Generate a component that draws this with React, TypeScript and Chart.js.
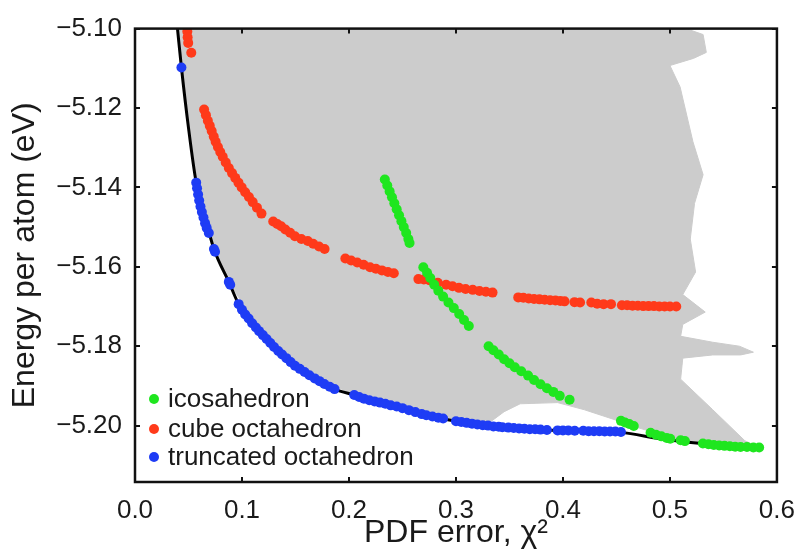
import React, { useEffect, useRef } from "react";
import { Chart, registerables } from "chart.js";

Chart.register(...registerables);

type Pt = [number, number];

const xTicks = [0, 0.1, 0.2, 0.3, 0.4, 0.5, 0.6];
const yTicks = [-5.2, -5.18, -5.16, -5.14, -5.12, -5.1];
const xRange = [0, 0.6];
const yRange = [-5.2142, -5.1];

const seriesLabels = ["icosahedron", "cube octahedron", "truncated octahedron"];
const seriesColors = ["#1fe61f", "#ff3a1a", "#1e3cf5"];
const regionColor = "#cccccc";

const icosahedron: Pt[] = [
  [0.2335, -5.138], [0.2358, -5.1395], [0.238, -5.141], [0.2402, -5.1425], [0.2424, -5.144],
  [0.2446, -5.1455], [0.2468, -5.147], [0.249, -5.1485], [0.2512, -5.15], [0.2535, -5.1515],
  [0.2555, -5.153], [0.2566, -5.154],
  [0.2695, -5.1601], [0.273, -5.1615], [0.276, -5.1628], [0.2797, -5.1645], [0.2835, -5.166],
  [0.288, -5.1675], [0.293, -5.169], [0.298, -5.1704], [0.303, -5.1719], [0.3075, -5.1734],
  [0.312, -5.1749],
  [0.3305, -5.18], [0.335, -5.181], [0.34, -5.1821], [0.345, -5.1833], [0.35, -5.1843],
  [0.355, -5.1853], [0.361, -5.1863], [0.3674, -5.1874], [0.373, -5.1885], [0.379, -5.1896],
  [0.385, -5.1906], [0.391, -5.1915], [0.397, -5.1925], [0.4062, -5.1935],
  [0.4542, -5.1988], [0.458, -5.1992], [0.462, -5.1996], [0.4662, -5.2001],
  [0.4819, -5.2018], [0.487, -5.2023], [0.492, -5.2027], [0.497, -5.2031], [0.5003, -5.2033],
  [0.51, -5.2037], [0.514, -5.2039],
  [0.5308, -5.2045], [0.536, -5.2047], [0.541, -5.2049], [0.546, -5.205], [0.551, -5.2051],
  [0.556, -5.2052], [0.561, -5.2053], [0.566, -5.2054], [0.572, -5.2054], [0.578, -5.2055],
  [0.5834, -5.2055],
];

const cubeOctahedron: Pt[] = [
  [0.0489, -5.1007], [0.0492, -5.1022], [0.0497, -5.1036], [0.0526, -5.1061],
  [0.0646, -5.1204], [0.0663, -5.1218], [0.0681, -5.1232], [0.0699, -5.1245], [0.0717, -5.1258],
  [0.0736, -5.1272], [0.0754, -5.1285], [0.0775, -5.1298], [0.0797, -5.1311], [0.082, -5.1323],
  [0.0848, -5.1337], [0.0877, -5.1351], [0.0907, -5.1364], [0.0937, -5.1376], [0.0967, -5.1388],
  [0.0997, -5.14], [0.103, -5.1412], [0.1065, -5.1424], [0.11, -5.1437], [0.114, -5.1451],
  [0.1182, -5.1466],
  [0.1292, -5.1486], [0.133, -5.1492], [0.1366, -5.1498], [0.1405, -5.1506], [0.145, -5.1514],
  [0.1495, -5.1523], [0.1555, -5.153], [0.1615, -5.1535], [0.1665, -5.1542], [0.172, -5.1549],
  [0.1772, -5.1555],
  [0.1966, -5.1579], [0.202, -5.1584], [0.2077, -5.1589], [0.2137, -5.1595], [0.2197, -5.1601],
  [0.2252, -5.1605], [0.2308, -5.1609], [0.2364, -5.1613], [0.2419, -5.1616],
  [0.2649, -5.1631], [0.27, -5.1632], [0.2751, -5.1634], [0.283, -5.164], [0.2908, -5.1645],
  [0.2968, -5.1649], [0.3028, -5.1653], [0.309, -5.1656], [0.3157, -5.1658], [0.322, -5.1661],
  [0.328, -5.1663], [0.3342, -5.1665],
  [0.3582, -5.1677], [0.363, -5.1678], [0.368, -5.168], [0.373, -5.1681], [0.378, -5.1682],
  [0.383, -5.1683], [0.388, -5.1684], [0.393, -5.1685], [0.3975, -5.1686], [0.4015, -5.1687],
  [0.4108, -5.1689], [0.416, -5.169], [0.4265, -5.169],
  [0.432, -5.1693], [0.438, -5.1694], [0.4449, -5.1694],
  [0.4551, -5.1697], [0.46, -5.1697], [0.465, -5.1698], [0.47, -5.1698], [0.475, -5.1699],
  [0.48, -5.1699], [0.485, -5.1699], [0.49, -5.17], [0.495, -5.17], [0.5, -5.17], [0.5059, -5.17],
];

const truncatedOctahedron: Pt[] = [
  [0.0434, -5.1098],
  [0.0572, -5.1388], [0.058, -5.1402], [0.059, -5.1418], [0.06, -5.1433], [0.0612, -5.1448],
  [0.0625, -5.1462], [0.064, -5.1476], [0.0655, -5.149], [0.067, -5.1502], [0.069, -5.1515],
  [0.0738, -5.1555], [0.0748, -5.1562],
  [0.0877, -5.1638], [0.089, -5.1645],
  [0.0969, -5.1694], [0.1, -5.1708], [0.103, -5.172], [0.1062, -5.173], [0.1095, -5.1742],
  [0.113, -5.1753], [0.116, -5.1762], [0.1195, -5.1772], [0.123, -5.1782], [0.1265, -5.1792],
  [0.13, -5.1802], [0.1339, -5.1812], [0.1375, -5.1821], [0.1415, -5.183], [0.1455, -5.184],
  [0.1495, -5.1849], [0.154, -5.1857], [0.1585, -5.1865], [0.163, -5.1873], [0.168, -5.1881],
  [0.1725, -5.1888], [0.177, -5.1895], [0.182, -5.1902], [0.1865, -5.1908],
  [0.2049, -5.1923], [0.2095, -5.1928], [0.214, -5.1932], [0.219, -5.1936], [0.224, -5.1939],
  [0.229, -5.1942], [0.234, -5.1945], [0.239, -5.1949], [0.2446, -5.1952], [0.25, -5.1956],
  [0.256, -5.1961], [0.262, -5.1966], [0.268, -5.1971], [0.2723, -5.1974], [0.278, -5.1977],
  [0.2835, -5.198], [0.288, -5.1982],
  [0.3, -5.1989], [0.305, -5.1991], [0.31, -5.1993], [0.315, -5.1995], [0.32, -5.1997],
  [0.325, -5.1999], [0.33, -5.2], [0.335, -5.2002], [0.34, -5.2003], [0.3434, -5.2004],
  [0.349, -5.2005], [0.354, -5.2006], [0.359, -5.2007], [0.364, -5.2008], [0.369, -5.2009],
  [0.374, -5.2009], [0.379, -5.201], [0.385, -5.2011],
  [0.395, -5.2012], [0.4, -5.2012], [0.405, -5.2012], [0.411, -5.2013],
  [0.419, -5.2013], [0.424, -5.2014], [0.429, -5.2014], [0.434, -5.2014], [0.439, -5.2015],
  [0.444, -5.2015], [0.449, -5.2015], [0.4542, -5.2016],
];

const paretoFront: Pt[] = [
  [0.0397, -5.1], [0.0434, -5.1098], [0.05, -5.125], [0.0572, -5.1388], [0.0646, -5.1466],
  [0.0738, -5.1555], [0.0877, -5.1638], [0.0969, -5.1694], [0.1062, -5.173], [0.1182, -5.1768],
  [0.1339, -5.1812], [0.1495, -5.1849], [0.168, -5.1881], [0.1865, -5.1908], [0.2049, -5.1923],
  [0.2262, -5.194], [0.2446, -5.1952], [0.2723, -5.1974], [0.3, -5.1989], [0.3434, -5.2004],
  [0.3859, -5.2011], [0.4135, -5.2013], [0.4542, -5.2017], [0.491, -5.2033], [0.522, -5.2043],
  [0.5834, -5.2054],
];

const sampledRegion: Pt[] = [
  [0.041, -5.1], [0.515, -5.1], [0.531, -5.1015], [0.534, -5.106], [0.522, -5.1075],
  [0.5, -5.1093], [0.5095, -5.1147], [0.5215, -5.1285], [0.531, -5.1368], [0.523, -5.144],
  [0.519, -5.153], [0.524, -5.1613], [0.512, -5.167], [0.533, -5.1714], [0.512, -5.1745],
  [0.51, -5.1775], [0.54, -5.179], [0.565, -5.18], [0.578, -5.1815], [0.566, -5.1822],
  [0.54, -5.1822], [0.512, -5.183], [0.51, -5.1883], [0.54, -5.196], [0.57, -5.2038],
  [0.578, -5.2048], [0.54, -5.2046], [0.5, -5.203], [0.47, -5.2005], [0.454, -5.199],
  [0.42, -5.196], [0.395, -5.1942], [0.36, -5.1945], [0.345, -5.1965], [0.33, -5.1995],
  [0.3, -5.1986], [0.272, -5.1972], [0.23, -5.1946], [0.1957, -5.1912], [0.1495, -5.1846],
  [0.118, -5.1764], [0.094, -5.1665], [0.072, -5.155], [0.057, -5.1385], [0.05, -5.1245],
  [0.044, -5.1095], [0.041, -5.1],
];

const FONT = "'Liberation Sans', Arial, Helvetica, sans-serif";
const TEXT = "#1a1a1a";

const toXY = (pts: Pt[]) => pts.map(([x, y]) => ({ x, y }));

const framePlugin = {
  id: "frameTicksLegend",
  afterDatasetsDraw(chart: any) {
    const { ctx, chartArea: a, scales } = chart;
    ctx.save();
    ctx.strokeStyle = "#111";
    ctx.lineWidth = 2.5;
    ctx.strokeRect(a.left, a.top, a.right - a.left, a.bottom - a.top);
    ctx.lineWidth = 2;
    const tl = 5;
    ctx.beginPath();
    for (const v of xTicks) {
      const px = Math.round(scales.x.getPixelForValue(v));
      ctx.moveTo(px, a.bottom);
      ctx.lineTo(px, a.bottom - tl);
      ctx.moveTo(px, a.top);
      ctx.lineTo(px, a.top + tl);
    }
    for (const v of yTicks) {
      const py = Math.round(scales.y.getPixelForValue(v));
      ctx.moveTo(a.left, py);
      ctx.lineTo(a.left + tl, py);
      ctx.moveTo(a.right, py);
      ctx.lineTo(a.right - tl, py);
    }
    ctx.stroke();

    // legend inside plot area, bottom-left
    ctx.font = `26px ${FONT}`;
    ctx.textBaseline = "middle";
    ctx.textAlign = "left";
    const rows = [-83, -53, -25];
    seriesLabels.forEach((label, i) => {
      const cy = a.bottom + rows[i];
      ctx.fillStyle = seriesColors[i];
      ctx.beginPath();
      ctx.arc(a.left + 19, cy, 5, 0, Math.PI * 2);
      ctx.fill();
      ctx.fillStyle = TEXT;
      ctx.fillText(label, a.left + 33, cy + 1);
    });
    ctx.restore();
  },
};

export default function App() {
  const ref = useRef<HTMLCanvasElement | null>(null);

  useEffect(() => {
    document.body.style.margin = "0";
    const canvas = ref.current;
    if (!canvas) return;
    const pointDs = (label: string, pts: Pt[], color: string, order: number) => ({
      type: "scatter" as const,
      label,
      data: toXY(pts),
      backgroundColor: color,
      borderColor: color,
      borderWidth: 0,
      pointRadius: 5,
      pointHoverRadius: 5,
      showLine: false,
      order,
    });
    const chart = new Chart(canvas, {
      type: "scatter",
      data: {
        datasets: [
          {
            type: "scatter",
            label: "sampled",
            data: toXY(sampledRegion),
            showLine: true,
            fill: "shape",
            backgroundColor: regionColor,
            borderColor: regionColor,
            borderWidth: 1,
            pointRadius: 0,
            order: 10,
          } as any,
          {
            type: "scatter",
            label: "front",
            data: toXY(paretoFront),
            showLine: true,
            fill: false,
            borderColor: "#000",
            backgroundColor: "#000",
            borderWidth: 3,
            pointRadius: 0,
            cubicInterpolationMode: "monotone",
            order: 5,
          } as any,
          pointDs(seriesLabels[1], cubeOctahedron, seriesColors[1], 3),
          pointDs(seriesLabels[0], icosahedron, seriesColors[0], 2),
          pointDs(seriesLabels[2], truncatedOctahedron, seriesColors[2], 1),
        ],
      },
      options: {
        responsive: false,
        animation: false,
        layout: { padding: { top: 17, right: 23, left: 0, bottom: 0 } },
        plugins: {
          legend: { display: false },
          tooltip: { enabled: false },
        },
        scales: {
          x: {
            type: "linear",
            min: xRange[0],
            max: xRange[1],
            grid: { display: false, drawTicks: false },
            border: { display: false },
            afterBuildTicks: (s: any) => {
              s.ticks = xTicks.map((v) => ({ value: v }));
            },
            afterFit: (s: any) => {
              s.height = 76;
            },
            ticks: {
              padding: 13,
              color: TEXT,
              font: { family: FONT, size: 26 },
              maxRotation: 0,
              callback: (v: any) => Number(v).toFixed(1),
            },
            title: {
              display: true,
              text: "PDF error, χ²",
              color: TEXT,
              font: { family: FONT, size: 32 },
              padding: { top: 0, bottom: 6 },
            },
          },
          y: {
            type: "linear",
            min: yRange[0],
            max: yRange[1],
            grid: { display: false, drawTicks: false },
            border: { display: false },
            afterBuildTicks: (s: any) => {
              s.ticks = yTicks.map((v) => ({ value: v }));
            },
            afterFit: (s: any) => {
              s.width = 135;
            },
            ticks: {
              padding: 13,
              color: TEXT,
              font: { family: FONT, size: 26 },
              callback: (v: any) => "\u2212" + Math.abs(Number(v)).toFixed(2),
            },
            title: {
              display: true,
              text: "Energy per atom (eV)",
              color: TEXT,
              font: { family: FONT, size: 32 },
              padding: { top: 6, bottom: 0 },
            },
          },
        },
      } as any,
      plugins: [framePlugin],
    });
    return () => chart.destroy();
  }, []);

  return (
    <div style={{ width: 808, height: 558, background: "#fff" }}>
      <canvas ref={ref} width={808} height={558} />
    </div>
  );
}
